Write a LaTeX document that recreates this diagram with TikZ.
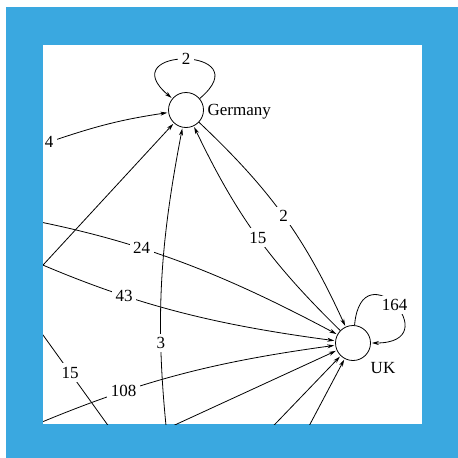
\documentclass[tikz,border=0pt]{standalone}
\usepackage{fontspec}
\setmainfont{Liberation Serif}
\usepackage{tikz}
\usetikzlibrary{arrows.meta,positioning}
\definecolor{frameblue}{RGB}{58,168,224}

\begin{document}
\begin{tikzpicture}[x=1pt,y=1pt
	,font=\fontsize{17}{19}\selectfont
	,thick]
  \tikzstyle{country}=[circle,draw,minimum size=35pt,inner sep=0pt]
  \tikzstyle{lbl}=[fill=white,inner sep=3.5pt]

  % frame
  \useasboundingbox (0,0) rectangle (458,-458);
  \fill[frameblue] (6,-7) rectangle (458,-458);
  \fill[white] (43,-45) rectangle (422,-424);

  \begin{scope}[->,>={Stealth[length=7pt,width=4pt]}
	,shorten >=1pt]
  \clip (43,-45) rectangle (422,-424);
  % countries
  \node[country](de) at (186,-110) {};
  \node[country](uk) at (353,-343) {};
  \node[right=0pt of de,yshift=-2pt](delab) {Germany};
  \node(uklab) at (383,-368) {UK};
  % ends outside the picture
  \coordinate (c24) at (-60,-205);
  \coordinate (c43) at (-30,-232);
  \coordinate (c108) at (0,-440);
  \coordinate (cw) at (20,-290);
  \coordinate (c3) at (171,-470);
  \coordinate (la) at (20,-303);
  \coordinate (lb) at (130,-456);
  \coordinate (b1) at (140,-441);
  \coordinate (b2) at (255,-445);
  \coordinate (b3) at (299,-445);
  \node[lbl](n4) at (49,-142) {4};
  % into Germany
  \path (de) edge [out=40,in=140,looseness=7.6] node[lbl] {2} (de);
  \path (n4) edge [bend left=5] (de);
  \path (cw) edge (de);
  \path (c3) edge [bend left=9] node[lbl,pos=.36] {3} (de);
  \path (uk) edge [bend left=10] node[lbl,pos=.49] {15} (de);
  % into UK
  \path (uk) edge [out=85,in=0,looseness=8.3] node[lbl] {164} (uk);
  \path (de) edge [bend left=11] node[lbl,pos=.5] {2} (uk);
  \path (c24) edge [bend left=10] node[lbl,pos=.49] {24} (uk);
  \path (c43) edge [bend right=9] node[lbl,pos=.43] {43} (uk);
  \path (c108) edge [bend left=8] node[lbl,pos=.37] {108} (uk);
  \path (b1) edge (uk);
  \path (b2) edge (uk);
  \path (b3) edge (uk);
  % others
  \path (la) edge node[lbl,pos=.455] {15} (lb);
  \end{scope}
\end{tikzpicture}
\end{document}
